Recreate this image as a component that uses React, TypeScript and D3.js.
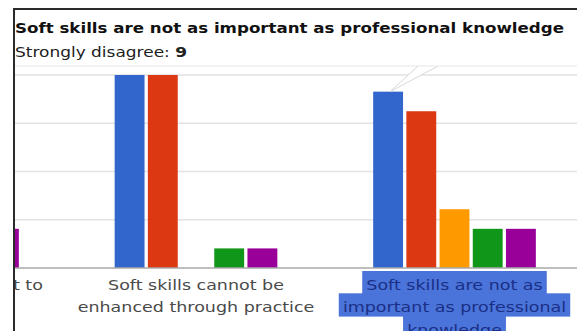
import React, { useMemo } from "react";
import * as d3 from "d3";

const categories = [
  "Soft skills are difficult to learn",
  "Soft skills cannot be enhanced through practice",
  "Soft skills are not as important as professional knowledge",
];
const categoryLines = [
  ["Soft skills are difficult to", "learn"],
  ["Soft skills cannot be", "enhanced through practice"],
  ["Soft skills are not as", "important as professional", "knowledge"],
];
const series = ["Strongly disagree", "Disagree", "Neutral", "Agree", "Strongly agree"];
const stronglyDisagree = [3, 10, 9];
const disagree = [4, 10, 8];
const neutral = [2, 0, 3];
const agree = [3, 1, 2];
const stronglyAgree = [2, 1, 2];
const seriesValues = [stronglyDisagree, disagree, neutral, agree, stronglyAgree];
const colors = ["#3366cc", "#dc3912", "#ff9900", "#109618", "#990099"];
const selectedCategory = 2;
const selectedSeries = 0;
const yMax = 9.85;
const gridCount = 4;

const W = 577;
const H = 331;
const plot = { left: 15, right: W, top: 75, bottom: 268 };
const LABEL_FONT = "14px 'DejaVu Sans'";
const LABEL_SCALE = 1.25;

export default function App() {
  const x0 = d3.scalePoint<string>().domain(categories).range([-62.5, 454.5]);
  const x1 = d3
    .scaleBand<string>()
    .domain(series)
    .range([-83, 83])
    .paddingInner(0.1)
    .paddingOuter(0.05);
  const y = d3.scaleLinear().domain([0, yMax]).range([plot.bottom, plot.top]);
  const grid = d3.range(0, gridCount + 1).map((i) => (i * yMax) / gridCount);

  const measure = useMemo(() => {
    const c = document.createElement("canvas").getContext("2d")!;
    c.font = LABEL_FONT;
    return (s: string) => c.measureText(s).width;
  }, []);

  const lineGap = 22.3;
  const firstBaseline = 290;

  const selCx = (x0(categories[selectedCategory]) as number) + (x1(series[selectedSeries]) as number) + x1.bandwidth() / 2;
  const selTop = y(seriesValues[selectedSeries][selectedCategory]);

  return (
    <svg
      width={W}
      height={H}
      style={{ position: "absolute", left: 0, top: 0, background: "#fff" }}
      fontFamily="'DejaVu Sans', sans-serif"
    >
      <defs>
        <clipPath id="plotClip">
          <rect x={plot.left} y={plot.top} width={plot.right - plot.left} height={plot.bottom - plot.top} />
        </clipPath>
        <clipPath id="labelClip">
          <rect x={plot.left} y={plot.bottom} width={plot.right - plot.left} height={H - plot.bottom} />
        </clipPath>
      </defs>
      <rect x={0} y={0} width={W} height={H} fill="#fff" />

      {/* gridlines */}
      {grid.slice(1).map((g, i) => (
        <line key={i} x1={plot.left} x2={plot.right} y1={y(g)} y2={y(g)} stroke="#e2e2e2" strokeWidth={1.5} />
      ))}

      {/* bars */}
      <g clipPath="url(#plotClip)">
        {categories.map((cat, ci) =>
          series.map((s, si) => {
            const v = seriesValues[si][ci];
            if (v <= 0) return null;
            const x = (x0(cat) as number) + (x1(s) as number);
            return (
              <rect
                key={cat + s}
                x={x}
                y={y(v)}
                width={x1.bandwidth()}
                height={plot.bottom - y(v)}
                fill={colors[si]}
              />
            );
          })
        )}
      </g>

      {/* baseline */}
      <line x1={plot.left} x2={plot.right} y1={y(0)} y2={y(0)} stroke="#a8a8a8" strokeWidth={1.5} />

      {/* category labels */}
      <g clipPath="url(#labelClip)">
        {categories.map((cat, ci) => {
          const cx = x0(cat) as number;
          const sel = ci === selectedCategory;
          return (
            <g key={cat}>
              {categoryLines[ci].map((ln, li) => {
                const by = firstBaseline + li * lineGap;
                const w = measure(ln) * LABEL_SCALE;
                return (
                  <g key={li}>
                    {sel && (
                      <rect x={cx - w / 2 - 4} y={by - 19} width={w + 8} height={lineGap + 1} fill="#4a74da" />
                    )}
                    <text
                      transform={`translate(${cx},${by}) scale(${LABEL_SCALE},1)`}
                      textAnchor="middle"
                      fontSize={14}
                      fill={sel ? "#1a2f86" : "#4a4a4a"}
                    >
                      {ln}
                    </text>
                  </g>
                );
              })}
            </g>
          );
        })}
      </g>

      {/* tooltip */}
      <path
        d={`M${selCx + 30},${plot.top - 9} L${selCx + 2},${selTop} L${selCx + 50},${plot.top - 9}`}
        fill="#fff"
        stroke="#d8d8d8"
        strokeWidth={1}
      />
      <line x1={plot.left} x2={W} y1={plot.top - 9} y2={plot.top - 9} stroke="#e6e6e6" strokeWidth={1} />
      <text x={15} y={33} fontSize={14} fontWeight="bold" fill="#111" textLength={549} lengthAdjust="spacingAndGlyphs">
        {categories[selectedCategory]}
      </text>
      <text x={15} y={57} fontSize={14} fill="#222" textLength={172} lengthAdjust="spacingAndGlyphs">
        {series[selectedSeries] + ": "}
        <tspan fontWeight="bold">{seriesValues[selectedSeries][selectedCategory]}</tspan>
      </text>

      {/* frame */}
      <line x1={14} x2={14} y1={9} y2={H} stroke="#2a2a2a" strokeWidth={2} />
      <line x1={13} x2={W} y1={9} y2={9} stroke="#2a2a2a" strokeWidth={2} />
    </svg>
  );
}
